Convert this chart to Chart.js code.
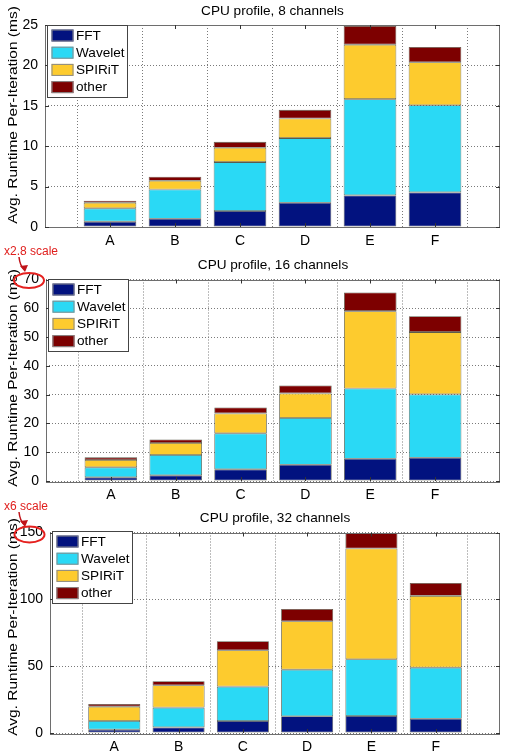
<!DOCTYPE html>
<html><head><meta charset="utf-8">
<script src="https://cdn.jsdelivr.net/npm/chart.js@4/dist/chart.umd.min.js"></script>
<style>
html,body{margin:0;padding:0;background:#fff;width:506px;height:755px;overflow:hidden}
canvas{position:absolute;left:0;top:0}
</style></head><body>
<canvas id="c1" width="506" height="755"></canvas>
<canvas id="c2" width="506" height="755"></canvas>
<canvas id="c3" width="506" height="755"></canvas>
<script>
// ---- data ----
const categories = ['A','B','C','D','E','F'];
const seriesNames = ['FFT','Wavelet','SPIRiT','other'];
const seriesColors = ['#02127f','#2ad9f5','#fdcb2e','#7d0000'];

const titles = ['CPU profile, 8 channels','CPU profile, 16 channels','CPU profile, 32 channels'];
const yTitle = 'Avg. Runtime Per-Iteration (ms)';

// 8 channels
const fft8     = [0.66, 1.03, 1.98, 3.00, 3.91, 4.28];
const wavelet8 = [1.65, 3.62, 6.05, 8.00, 11.91, 10.79];
const spirit8  = [0.69, 1.07, 1.77, 2.43, 6.75, 5.32];
const other8   = [0.25, 0.50, 0.74, 1.07, 2.31, 1.89];
const yTicks8  = [0, 5, 10, 15, 20, 25];

// 16 channels
const fft16     = [1.27, 1.97, 4.05, 5.67, 7.75, 8.10];
const wavelet16 = [3.47, 7.05, 12.50, 16.20, 24.41, 21.98];
const spirit16  = [2.55, 4.17, 6.94, 8.56, 26.84, 21.64];
const other16   = [0.92, 1.27, 2.08, 2.77, 6.49, 5.55];
const yTicks16  = [0, 10, 20, 30, 40, 50, 60, 70];

// 32 channels
const fft32     = [2.5, 4.2, 9.0, 12.5, 12.7, 10.7];
const wavelet32 = [6.5, 14.8, 25.7, 34.9, 42.5, 38.2];
const spirit32  = [10.7, 16.7, 27.2, 36.2, 82.8, 53.7];
const other32   = [2.0, 3.0, 6.7, 9.2, 11.5, 9.7];
const yTicks32  = [0, 50, 100, 150];

const scaleNotes = ['', 'x2.8 scale', 'x6 scale'];

// ---- layout ----
const W = 506, H = 755, PLOT_RIGHT = 501, X_AXIS_H = 20;
const panels = [
  {id:'c1', series:[fft8,wavelet8,spirit8,other8], ticks:yTicks8, title:titles[0],
   top:25, bottom:227, left:45, titleY:11, yTitleY:115, legend:{x:47.5,y:25.5},
   note:null},
  {id:'c2', series:[fft16,wavelet16,spirit16,other16], ticks:yTicks16, title:titles[1],
   top:279.5, bottom:481, left:46, titleY:265, yTitleY:378, legend:{x:48.5,y:279.5},
   note:{text:scaleNotes[1], tx:4, ty:252, ex:29, ey:280.5, rx:15, ry:7.5, a0:[19,257], a1:[24,272]}},
  {id:'c3', series:[fft32,wavelet32,spirit32,other32], ticks:yTicks32, title:titles[2],
   top:532.5, bottom:733, left:50, titleY:518, yTitleY:627, legend:{x:52.5,y:531.5},
   note:{text:scaleNotes[2], tx:4, ty:507, ex:29.5, ey:534.5, rx:15, ry:8, a0:[19,512], a1:[24,527]}}
];

const FONT = '"Liberation Sans", Arial, Helvetica, sans-serif';

const decorPlugin = {
  id:'decor',
  afterDraw(chart, args, o){
    const ctx = chart.ctx, ca = chart.chartArea;
    const xs = chart.scales.x, ys = chart.scales.y;
    ctx.save();
    // frame
    ctx.strokeStyle = '#6e6e6e'; ctx.lineWidth = 1;
    ctx.strokeRect(Math.round(ca.left)+0.5, Math.round(ca.top)+0.5,
                   Math.round(ca.right-ca.left)-1, Math.round(ca.bottom-ca.top));
    // inward tick marks
    ctx.strokeStyle = '#333';
    ctx.beginPath();
    o.ticks.forEach(v=>{
      const py = Math.round(ys.getPixelForValue(v))+0.5;
      ctx.moveTo(ca.left, py); ctx.lineTo(ca.left+4, py);
      ctx.moveTo(ca.right, py); ctx.lineTo(ca.right-4, py);
    });
    for(let i=1;i<=categories.length;i++){
      const px = Math.round(xs.getPixelForValue(i))+0.5;
      ctx.moveTo(px, ca.bottom); ctx.lineTo(px, ca.bottom-4);
      ctx.moveTo(px, ca.top); ctx.lineTo(px, ca.top+4);
    }
    ctx.stroke();
    // title
    ctx.fillStyle = '#000';
    ctx.font = '13.6px ' + FONT;
    ctx.textAlign = 'center'; ctx.textBaseline = 'middle';
    ctx.fillText(o.title, (ca.left+ca.right)/2, o.titleY);
    // y title (vertically stretched like the source)
    ctx.save();
    ctx.translate(13, o.yTitleY);
    ctx.rotate(-Math.PI/2);
    ctx.scale(1.14, 1);
    ctx.font = '13.6px ' + FONT;
    ctx.fillText(yTitle, 0, 0);
    ctx.restore();
    // legend
    const L = o.legend, bw = 80, bh = 72;
    ctx.fillStyle = '#fff';
    ctx.fillRect(L.x, L.y, bw, bh);
    ctx.strokeStyle = '#444';
    ctx.strokeRect(L.x, L.y, bw, bh);
    ctx.font = '13.6px ' + FONT;
    ctx.textAlign = 'left'; ctx.textBaseline = 'middle';
    chart.data.datasets.forEach((ds, i)=>{
      const sy = L.y + 4 + i*17.2;
      ctx.fillStyle = ds.backgroundColor;
      ctx.fillRect(L.x+4, sy, 22, 12);
      ctx.strokeStyle = '#8a8a8a';
      ctx.strokeRect(L.x+4.5, sy+0.5, 21, 11);
      ctx.fillStyle = '#000';
      ctx.fillText(ds.label, L.x+28.5, sy+6.5);
    });
    // scale annotation
    const n = o.note;
    if(n){
      ctx.fillStyle = '#e0201e';
      ctx.font = '12px ' + FONT;
      ctx.textAlign = 'left'; ctx.textBaseline = 'middle';
      ctx.fillText(n.text, n.tx, n.ty);
      ctx.strokeStyle = '#e5211f'; ctx.lineWidth = 2;
      ctx.beginPath();
      ctx.ellipse(n.ex, n.ey, n.rx, n.ry, 0, 0, Math.PI*2);
      ctx.stroke();
      // arrow
      ctx.strokeStyle = '#c0141a'; ctx.lineWidth = 1.5;
      ctx.beginPath();
      ctx.moveTo(n.a0[0], n.a0[1]);
      ctx.quadraticCurveTo(n.a0[0]+1, n.a1[1]-6, n.a1[0], n.a1[1]-3);
      ctx.stroke();
      ctx.fillStyle = '#c0141a';
      ctx.beginPath();
      ctx.moveTo(n.a1[0]+1, n.a1[1]);
      ctx.lineTo(n.a1[0]-4, n.a1[1]-6);
      ctx.lineTo(n.a1[0]+4, n.a1[1]-7);
      ctx.closePath(); ctx.fill();
    }
    ctx.restore();
  }
};

panels.forEach(p=>{
  const labels = [''].concat(categories, ['']);
  const datasets = seriesNames.map((name, k)=>({
    label: name,
    data: [null].concat(p.series[k], [null]),
    backgroundColor: seriesColors[k],
    borderColor: '#5c5c4c',
    borderWidth: 0.8,
    borderSkipped: false,
    categoryPercentage: 0.81,
    barPercentage: 1.0
  }));
  new Chart(document.getElementById(p.id), {
    type:'bar',
    data:{labels, datasets},
    plugins:[decorPlugin],
    options:{
      responsive:false, animation:false, devicePixelRatio:1,
      layout:{padding:{top:p.top, left:0, right:W-PLOT_RIGHT, bottom:H-p.bottom-X_AXIS_H}},
      plugins:{legend:{display:false}, title:{display:false}, tooltip:{enabled:false},
               decor:{title:p.title, titleY:p.titleY, yTitleY:p.yTitleY, legend:p.legend, ticks:p.ticks, note:p.note}},
      scales:{
        x:{stacked:true, offset:false,
           grid:{color:'#7a7a7a', lineWidth:1, drawTicks:false},
           border:{display:false, dash:[1,2]},
           ticks:{autoSkip:false, maxRotation:0, padding:6, color:'#000', font:{family:FONT, size:14}},
           afterFit(s){ s.height = X_AXIS_H; }},
        y:{stacked:true, min:0, max:p.ticks[p.ticks.length-1],
           afterBuildTicks(s){ s.ticks = p.ticks.map(v=>({value:v})); },
           grid:{color:'#7a7a7a', lineWidth:1, drawTicks:false},
           border:{display:false, dash:[1,2]},
           ticks:{padding:7, color:'#000', font:{family:FONT, size:14}},
           afterFit(s){ s.width = p.left; }}
      }
    }
  });
});
</script>
</body></html>
